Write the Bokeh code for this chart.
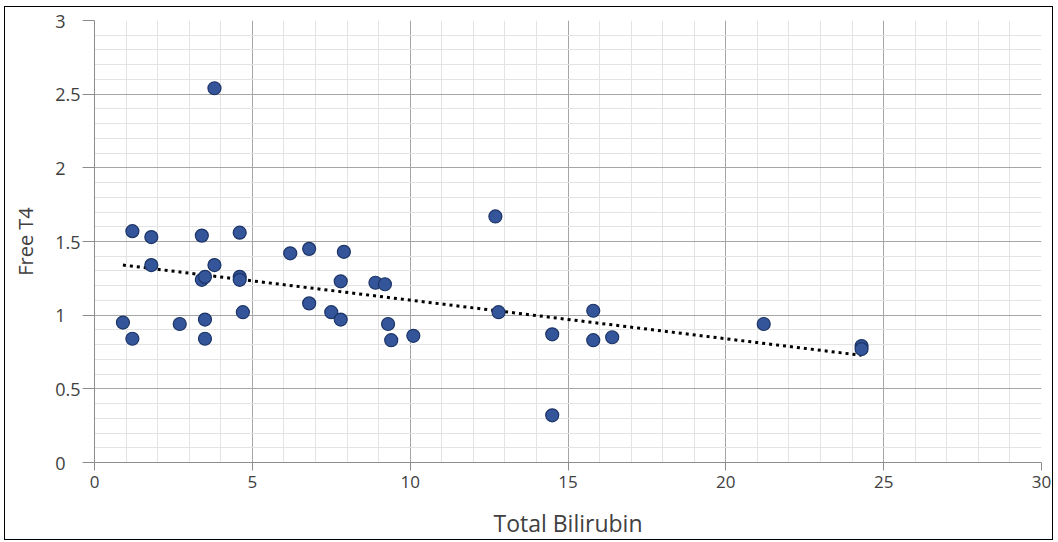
import numpy as np
from bokeh.plotting import figure
from bokeh.models import ColumnDataSource, FixedTicker
from bokeh.embed import file_html
from bokeh.resources import INLINE

total_bilirubin = [0.9, 1.2, 1.2, 1.8, 1.8, 2.7, 3.4, 3.4, 3.5, 3.5, 3.5, 3.8, 3.8,
                   4.6, 4.6, 4.6, 4.7, 6.2, 6.8, 6.8, 7.5, 7.8, 7.8, 7.9, 8.9, 9.2,
                   9.3, 9.4, 10.1, 12.7, 12.8, 14.5, 14.5, 15.8, 15.8, 16.4, 21.2, 24.3, 24.3]
free_t4 = [0.95, 1.57, 0.84, 1.53, 1.34, 0.94, 1.54, 1.24, 1.26, 0.97, 0.84, 1.34, 2.54,
           1.56, 1.26, 1.24, 1.02, 1.42, 1.45, 1.08, 1.02, 1.23, 0.97, 1.43, 1.22, 1.21,
           0.94, 0.83, 0.86, 1.67, 1.02, 0.87, 0.32, 1.03, 0.83, 0.85, 0.94, 0.79, 0.77]
x_ticks = [0, 5, 10, 15, 20, 25, 30]
y_ticks = [0, 0.5, 1, 1.5, 2, 2.5, 3]
y_tick_labels = ["0", "0.5", "1", "1.5", "2", "2.5", "3"]

FONT = "Open Sans"
TXT = "#404040"

p = figure(width=1049, height=534, x_range=(0, 30), y_range=(0, 3),
           output_backend="svg", toolbar_location=None,
           min_border_left=89, min_border_right=13, min_border_top=13, min_border_bottom=77)
p.styles = {"border": "1px solid black", "margin-left": "4px", "margin-top": "6px"}
p.outline_line_color = None
p.background_fill_color = "white"

p.xaxis.ticker = FixedTicker(ticks=x_ticks, minor_ticks=list(np.arange(0, 30.01, 1.0)))
p.yaxis.ticker = FixedTicker(ticks=y_ticks, minor_ticks=list(np.round(np.arange(0, 3.001, 0.1), 2)))

for ax in (p.xaxis, p.yaxis):
    ax.axis_line_color = "#8c8c8c"
    ax.major_tick_line_color = "#8c8c8c"
    ax.minor_tick_line_color = None
    ax.major_tick_in = 0
    ax.major_label_text_font = FONT
    ax.major_label_text_color = TXT
    ax.axis_label_text_font = FONT
    ax.axis_label_text_font_style = "normal"
    ax.axis_label_text_color = TXT

p.xaxis.major_tick_out = 8
p.yaxis.major_tick_out = 12
p.xaxis.major_label_text_font_size = "17px"
p.yaxis.major_label_text_font_size = "18px"
p.xaxis.major_label_standoff = 5
p.xaxis.axis_label = "Total Bilirubin"
p.xaxis.axis_label_text_font_size = "23px"
p.xaxis.axis_label_standoff = 16
p.yaxis.axis_label = "Free T4"
p.yaxis.axis_label_text_font_size = "20px"
p.yaxis.axis_label_standoff = 13
p.yaxis.major_label_standoff = 2

# the reference's y tick labels are left aligned: pad one-character labels with
# punctuation + figure spaces so that they start where "0.5" starts
p.yaxis.major_label_overrides = {
    v: t + ("\u2008\u2007" if len(t) == 1 else "") for v, t in zip(y_ticks, y_tick_labels)
}

p.xgrid.grid_line_color = "#a6a6a6"
p.ygrid.grid_line_color = "#a6a6a6"
p.xgrid.minor_grid_line_color = "#e3e3e3"
p.ygrid.minor_grid_line_color = "#e3e3e3"

slope, intercept = np.polyfit(total_bilirubin, free_t4, 1)
tx = [min(total_bilirubin), max(total_bilirubin)]
ty = [slope * v + intercept for v in tx]
p.line(tx, ty, line_color="black", line_width=3, line_dash="3 4")

src = ColumnDataSource(dict(x=total_bilirubin, y=free_t4))
p.scatter("x", "y", source=src, size=13, fill_color="#34559a", line_color="#1c3466", line_width=1.2)

open("out.html", "w").write(file_html(p, INLINE))
